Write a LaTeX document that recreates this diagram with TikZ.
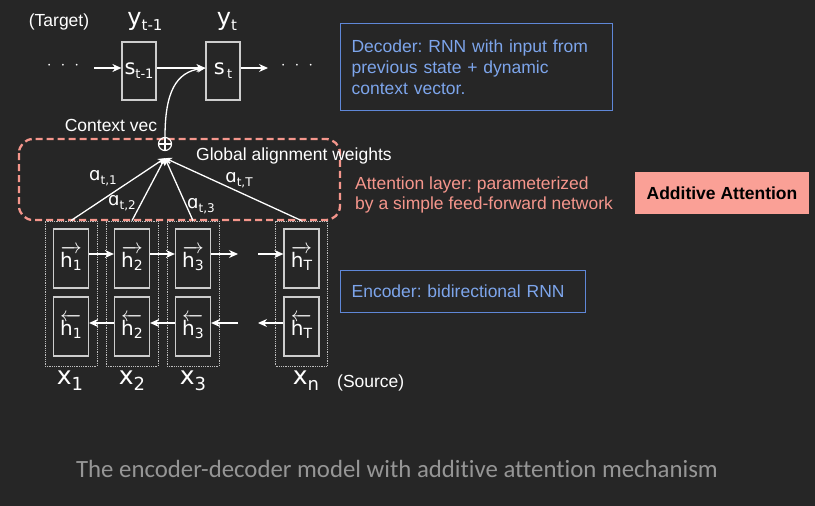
\documentclass[tikz,border=0pt]{standalone}
\usepackage{fontspec}
\setmainfont{Liberation Sans}
\newfontfamily\dvs{DejaVu Sans}
\newfontfamily\calib[Ligatures=NoCommon]{Carlito}
\usetikzlibrary{arrows.meta}
\frenchspacing
\definecolor{bg}{RGB}{38,38,38}
\definecolor{boxc}{RGB}{205,205,205}
\definecolor{colc}{RGB}{190,190,190}
\definecolor{salmon}{RGB}{245,150,140}
\definecolor{salfill}{RGB}{250,160,150}
\definecolor{bluet}{RGB}{125,165,235}
\definecolor{blueb}{RGB}{95,135,215}
\definecolor{capc}{RGB}{150,150,150}
\newcommand\hvec[2]{$\overrightarrow{\mbox{h{\raisebox{-3pt}{\fontsize{14}{14}\selectfont #2}}}}$}
\newcommand\hvecl[2]{$\overleftarrow{\mbox{h{\raisebox{-3pt}{\fontsize{14}{14}\selectfont #2}}}}$}
\tikzset{
  txt/.style={text=white, font=\fontsize{17.5}{21}\selectfont, inner sep=0},
  sbox/.style={draw=boxc, line width=1.2pt, minimum width=34pt, minimum height=58pt, inner sep=0, text=white, font=\dvs\fontsize{21}{21}\selectfont},
  cell/.style={draw=boxc, line width=1.2pt, minimum width=35pt, minimum height=59pt, inner sep=0, text=white, font=\dvs\fontsize{20}{20}\selectfont},
  col/.style={draw=colc, densely dotted, line width=0.8pt, minimum width=52pt, minimum height=145pt, inner sep=0},
  arr/.style={-{Stealth[length=9pt,width=8pt]}, white, line width=1.3pt},
  attarr/.style={-{Stealth[length=7pt,width=7pt]}, white, line width=1.3pt},
  big/.style={text=white, inner sep=0, font=\dvs\fontsize{25}{25}\selectfont},
  alab/.style={text=white, inner sep=0, font=\dvs\fontsize{18}{18}\selectfont},
  dots/.style={text=white, inner sep=0, font=\fontsize{17.5}{20}\selectfont},
}
\begin{document}
\begin{tikzpicture}[x=1pt,y=-1pt]
\fill[bg] (0,0) rectangle (815,506);
\useasboundingbox (0,0) rectangle (815,506);

% decoder
\node[txt] (target) at (59,22) {(Target)};
\node[big, font=\dvs\fontsize{24}{24}\selectfont] (y1) at (145,21) {y\raisebox{-5pt}{\fontsize{15}{15}\selectfont t-1}};
\node[big, font=\dvs\fontsize{24}{24}\selectfont] (y2) at (227,21) {y\raisebox{-5pt}{\fontsize{15}{15}\selectfont t}};
\node[sbox] (s1) at (139,71) {s\raisebox{-4pt}{\fontsize{13}{13}\selectfont t-1}};
\node[sbox] (s2) at (223,71) {s\raisebox{-4pt}{\fontsize{13}{13}\selectfont \,t}};
\node[dots] (dl) at (63,66) {$\cdot$\hspace{9pt}$\cdot$\hspace{9pt}$\cdot$};
\node[dots] (dr) at (297,66) {$\cdot$\hspace{9pt}$\cdot$\hspace{9pt}$\cdot$};
\coordinate (inl) at (94,68);
\coordinate (outr) at (268,68);
\draw[arr] (inl) -- ([yshift=3pt]s1.west);
\draw[arr] ([yshift=3pt]s1.east) -- ([yshift=3pt]s2.west);
\draw[arr] ([yshift=3pt]s2.east) -- (outr);

% attention
\draw[salmon, line width=2.3pt, dash pattern=on 7pt off 4pt, rounded corners=14pt] (19,139) rectangle (340,220);
\node[circle, draw=white, line width=1.2pt, minimum size=13pt, inner sep=0,
  path picture={\draw[white, line width=1.2pt] (path picture bounding box.north) -- (path picture bounding box.south) (path picture bounding box.west) -- (path picture bounding box.east);}] (plus) at (165,144) {};
\draw[white, line width=1.3pt, -{Stealth[length=8pt,width=7pt]}] (plus.north) .. controls (165,92) and (176,72) .. ([yshift=3pt]s2.west);
\node[txt] (ctx) at (111,125) {Context vec};
\node[txt, anchor=west] (gaw) at (196,156) {Global alignment weights};

% encoder columns
\node[col] (c1) at (71,293.5) {};
\node[col] (c2) at (132,293.5) {};
\node[col] (c3) at (193,293.5) {};
\node[col] (c4) at (301.5,293.5) {};
\node[cell] (hf1) at (71,258.5) {\hvec{}{1}};
\node[cell] (hf2) at (132,258.5) {\hvec{}{2}};
\node[cell] (hf3) at (193,258.5) {\hvec{}{3}};
\node[cell] (hfT) at (301.5,258.5) {\hvec{}{T}};
\node[cell] (hb1) at (71,326.5) {\hvecl{}{1}};
\node[cell] (hb2) at (132,326.5) {\hvecl{}{2}};
\node[cell] (hb3) at (193,326.5) {\hvecl{}{3}};
\node[cell] (hbT) at (301.5,326.5) {\hvecl{}{T}};
\coordinate (fo) at (238,254);
\coordinate (fi) at (258,254);
\coordinate (bo) at (238,323);
\coordinate (bi) at (258,323);
\draw[arr] ([yshift=4.5pt]hf1.east) -- ([yshift=4.5pt]hf2.west);
\draw[arr] ([yshift=4.5pt]hf2.east) -- ([yshift=4.5pt]hf3.west);
\draw[arr] ([yshift=4.5pt]hf3.east) -- (fo);
\draw[arr] (fi) -- ([yshift=4.5pt]hfT.west);
\draw[arr] ([yshift=3.5pt]hb2.west) -- ([yshift=3.5pt]hb1.east);
\draw[arr] ([yshift=3.5pt]hb3.west) -- ([yshift=3.5pt]hb2.east);
\draw[arr] (bo) -- ([yshift=3.5pt]hb3.east);
\draw[arr] ([yshift=3.5pt]hbT.west) -- (bi);

% attention lines
\draw[attarr] (c1.north) -- ([yshift=-7pt]plus.south);
\draw[attarr] (c2.north) -- ([yshift=-7pt]plus.south);
\draw[attarr] (c3.north) -- ([yshift=-7pt]plus.south);
\draw[attarr] (c4.north) -- ([yshift=-7pt]plus.south);
\node[alab] (a1) at (103,178) {ɑ\raisebox{-4pt}{\fontsize{12}{12}\selectfont t,1}};
\node[alab] (a2) at (122,203) {ɑ\raisebox{-4pt}{\fontsize{12}{12}\selectfont t,2}};
\node[alab] (a3) at (201,206) {ɑ\raisebox{-4pt}{\fontsize{12}{12}\selectfont t,3}};
\node[alab] (aT) at (239,180) {ɑ\raisebox{-4pt}{\fontsize{12}{12}\selectfont t,T}};

% x labels
\node[big] (x1) at (70,381) {x\raisebox{-6pt}{\fontsize{18}{18}\selectfont 1}};
\node[big] (x2) at (132,381) {x\raisebox{-6pt}{\fontsize{18}{18}\selectfont 2}};
\node[big] (x3) at (193,381) {x\raisebox{-6pt}{\fontsize{18}{18}\selectfont 3}};
\node[big] (xn) at (306,381) {x\raisebox{-6pt}{\fontsize{18}{18}\selectfont n}};
\node[txt, anchor=west] (src) at (337,383) {(Source)};

% right-hand boxes
\node[draw=blueb, line width=1.2pt, text=bluet, font=\fontsize{17.5}{21}\selectfont, anchor=north west,
  text width=250pt, inner xsep=11pt, inner ysep=0pt, minimum height=87pt, align=left] (dec) at (340,23)
  {Decoder: RNN with input from\\previous state + dynamic\\context vector.};
\node[text=salmon, font=\fontsize{17.5}{20}\selectfont, anchor=west, align=left, inner sep=0] (att) at (355,195)
  {Attention layer: parameterized\\by a simple feed-forward network};
\node[fill=salfill, text=black, font=\bfseries\fontsize{17.5}{20}\selectfont, minimum width=174pt, minimum height=42pt, inner sep=0] (add) at (722,193) {Additive Attention};
\node[draw=blueb, line width=1.2pt, text=bluet, font=\fontsize{17.5}{21}\selectfont, anchor=north west,
  minimum width=245pt, minimum height=42pt, inner xsep=11pt, inner ysep=0pt, text width=223pt, align=left] (enc) at (340,270)
  {Encoder: bidirectional RNN};

% caption
\node[text=capc, font=\calib\fontsize{24.8}{26}\selectfont, inner sep=0] (cap) at (397,469) {The encoder-decoder model with additive attention mechanism};
\end{tikzpicture}
\end{document}
